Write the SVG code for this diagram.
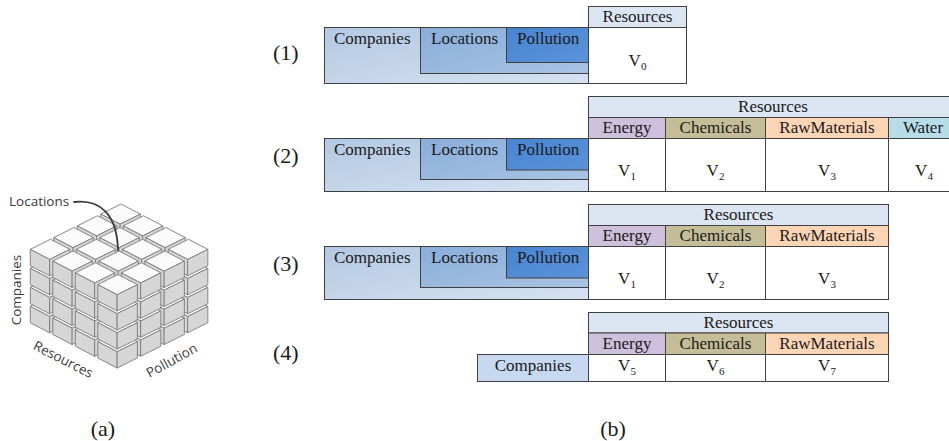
<svg xmlns="http://www.w3.org/2000/svg" xmlns:xlink="http://www.w3.org/1999/xlink" width="949" height="441" viewBox="0 0 949 441">
  <style>
    .cap { font-family: "Liberation Serif", "Times New Roman", Times, serif; font-size: 17px; fill: #1a1a1a; }
    .mid { text-anchor: middle; }
    .sub { font-size: 11px; }
    .num { font-family: "Liberation Serif", "Times New Roman", Times, serif; font-size: 22px; fill: #1a1a1a; }
    .lbl { font-family: "Open Sans", "DejaVu Sans", sans-serif; font-size: 13.5px; fill: #3a3a3a; }
    .cell { stroke: #404040; stroke-width: 1; }
    .hdr { fill: #dce6f2; }
    .en { fill: #ccc0da; }
    .ch { fill: #c4bd97; }
    .rm { fill: #fcd5b4; }
    .wa { fill: #b7dee8; }
    .body { fill: #ffffff; }
    .top { fill: #fbfbfb; stroke: #7a7a7a; stroke-width: 0.9; stroke-linejoin: round; }
    .side { fill: #d6d6d6; stroke: #7a7a7a; stroke-width: 0.9; stroke-linejoin: round; }
  </style>
  <defs>
    <linearGradient id="gComp" x1="0" y1="0" x2="1" y2="1">
      <stop offset="0" stop-color="#b3c8e3"/>
      <stop offset="1" stop-color="#d6e3f2"/>
    </linearGradient>
    <linearGradient id="gLoc" x1="0" y1="0" x2="1" y2="1">
      <stop offset="0" stop-color="#89aedb"/>
      <stop offset="1" stop-color="#a9c3e3"/>
    </linearGradient>
    <linearGradient id="gPol" x1="0" y1="0" x2="1" y2="1">
      <stop offset="0" stop-color="#4884d1"/>
      <stop offset="1" stop-color="#5b93d8"/>
    </linearGradient>
    <!-- one small cube, origin at the back corner of its top face -->
    <g id="c">
      <polygon class="top" points="0,0 -20.21,10.11 -0.86,20.21 19.35,10.11"/>
      <polygon class="side" points="-20.21,10.11 -0.86,20.21 -0.86,36.55 -20.21,26.45"/>
      <polygon class="side" points="19.35,10.11 -0.86,20.21 -0.86,36.55 19.35,26.45"/>
    </g>
    <!-- one 4x4 layer, drawn back to front -->
    <g id="layer">
      <use xlink:href="#c" x="121" y="204"/>
      <use xlink:href="#c" x="143.5" y="215.75"/>
      <use xlink:href="#c" x="97.5" y="215.75"/>
      <use xlink:href="#c" x="166" y="227.5"/>
      <use xlink:href="#c" x="120" y="227.5"/>
      <use xlink:href="#c" x="74" y="227.5"/>
      <use xlink:href="#c" x="188.5" y="239.25"/>
      <use xlink:href="#c" x="142.5" y="239.25"/>
      <use xlink:href="#c" x="96.5" y="239.25"/>
      <use xlink:href="#c" x="50.5" y="239.25"/>
      <use xlink:href="#c" x="165" y="251"/>
      <use xlink:href="#c" x="119" y="251"/>
      <use xlink:href="#c" x="73" y="251"/>
      <use xlink:href="#c" x="141.5" y="262.75"/>
      <use xlink:href="#c" x="95.5" y="262.75"/>
      <use xlink:href="#c" x="118" y="274.5"/>
    </g>
  </defs>

  <rect width="949" height="441" fill="#ffffff"/>

  <!-- (a) data cube -->
  <g id="cube">
    <use xlink:href="#layer" y="57"/>
    <use xlink:href="#layer" y="38"/>
    <use xlink:href="#layer" y="19"/>
    <use xlink:href="#layer" y="0"/>
  </g>
  <g id="connectors">
    <path d="M 74 202 C 100 199, 117 214, 118 250" fill="none" stroke="#3a3a3a" stroke-width="1.8" stroke-linecap="round"/>
  </g>
  <g id="cube-labels">
    <text class="lbl" x="9" y="206">Locations</text>
    <text class="lbl mid" transform="translate(21 290) rotate(-90)">Companies</text>
    <text class="lbl mid" transform="translate(63 360) rotate(27)" y="4">Resources</text>
    <text class="lbl mid" transform="translate(172 361) rotate(-29)" y="4">Pollution</text>
  </g>

  <!-- (1) one value column -->
  <g id="row1">
    <text class="num" x="273" y="60">(1)</text>
    <rect class="cell" x="324.5" y="27.5" width="264" height="56" fill="url(#gComp)"/>
    <rect class="cell" x="420.5" y="27.5" width="168" height="46" fill="url(#gLoc)"/>
    <rect class="cell" x="506.5" y="27.5" width="82" height="35" fill="url(#gPol)"/>
    <rect class="cell hdr" x="588.5" y="6.5" width="98" height="21"/>
    <rect class="cell body" x="588.5" y="27.5" width="98" height="56"/>
    <text class="cap" x="334" y="44">Companies</text>
    <text class="cap" x="431" y="44">Locations</text>
    <text class="cap" x="517" y="44">Pollution</text>
    <text class="cap mid" x="637.5" y="22">Resources</text>
    <text class="cap mid" x="637.5" y="66">V<tspan class="sub" dy="4">0</tspan></text>
  </g>

  <!-- (2) four resource columns -->
  <g id="row2">
    <text class="num" x="273" y="163">(2)</text>
    <rect class="cell" x="324.5" y="138.5" width="264" height="53" fill="url(#gComp)"/>
    <rect class="cell" x="420.5" y="138.5" width="168" height="41" fill="url(#gLoc)"/>
    <rect class="cell" x="506.5" y="138.5" width="82" height="31.5" fill="url(#gPol)"/>
    <rect class="cell hdr" x="588.5" y="96.5" width="372" height="21"/>
    <rect class="cell en" x="588.5" y="117.5" width="77" height="21"/>
    <rect class="cell ch" x="665.5" y="117.5" width="100" height="21"/>
    <rect class="cell rm" x="765.5" y="117.5" width="123" height="21"/>
    <rect class="cell wa" x="888.5" y="117.5" width="72" height="21"/>
    <rect class="cell body" x="588.5" y="138.5" width="77" height="53"/>
    <rect class="cell body" x="665.5" y="138.5" width="100" height="53"/>
    <rect class="cell body" x="765.5" y="138.5" width="123" height="53"/>
    <rect class="cell body" x="888.5" y="138.5" width="72" height="53"/>
    <text class="cap" x="334" y="155">Companies</text>
    <text class="cap" x="431" y="155">Locations</text>
    <text class="cap" x="517" y="155">Pollution</text>
    <text class="cap mid" x="773" y="112">Resources</text>
    <text class="cap mid" x="627" y="133">Energy</text>
    <text class="cap mid" x="715.5" y="133">Chemicals</text>
    <text class="cap mid" x="827" y="133">RawMaterials</text>
    <text class="cap mid" x="923" y="133">Water</text>
    <text class="cap mid" x="627" y="176">V<tspan class="sub" dy="4">1</tspan></text>
    <text class="cap mid" x="715.5" y="176">V<tspan class="sub" dy="4">2</tspan></text>
    <text class="cap mid" x="827" y="176">V<tspan class="sub" dy="4">3</tspan></text>
    <text class="cap mid" x="924" y="176">V<tspan class="sub" dy="4">4</tspan></text>
  </g>

  <!-- (3) three resource columns -->
  <g id="row3">
    <text class="num" x="273" y="271">(3)</text>
    <rect class="cell" x="324.5" y="246.5" width="264" height="53" fill="url(#gComp)"/>
    <rect class="cell" x="420.5" y="246.5" width="168" height="41" fill="url(#gLoc)"/>
    <rect class="cell" x="506.5" y="246.5" width="82" height="31.5" fill="url(#gPol)"/>
    <rect class="cell hdr" x="588.5" y="204.5" width="300" height="21"/>
    <rect class="cell en" x="588.5" y="225.5" width="77" height="21"/>
    <rect class="cell ch" x="665.5" y="225.5" width="100" height="21"/>
    <rect class="cell rm" x="765.5" y="225.5" width="123" height="21"/>
    <rect class="cell body" x="588.5" y="246.5" width="77" height="53"/>
    <rect class="cell body" x="665.5" y="246.5" width="100" height="53"/>
    <rect class="cell body" x="765.5" y="246.5" width="123" height="53"/>
    <text class="cap" x="334" y="263">Companies</text>
    <text class="cap" x="431" y="263">Locations</text>
    <text class="cap" x="517" y="263">Pollution</text>
    <text class="cap mid" x="738.5" y="220">Resources</text>
    <text class="cap mid" x="627" y="241">Energy</text>
    <text class="cap mid" x="715.5" y="241">Chemicals</text>
    <text class="cap mid" x="827" y="241">RawMaterials</text>
    <text class="cap mid" x="627" y="284">V<tspan class="sub" dy="4">1</tspan></text>
    <text class="cap mid" x="715.5" y="284">V<tspan class="sub" dy="4">2</tspan></text>
    <text class="cap mid" x="827" y="284">V<tspan class="sub" dy="4">3</tspan></text>
  </g>

  <!-- (4) companies only -->
  <g id="row4">
    <text class="num" x="273" y="360">(4)</text>
    <rect class="cell" x="477.5" y="354.5" width="111" height="27" fill="#c6d9f1"/>
    <rect class="cell hdr" x="588.5" y="312.5" width="300" height="20.5"/>
    <rect class="cell en" x="588.5" y="333" width="77" height="21.5"/>
    <rect class="cell ch" x="665.5" y="333" width="100" height="21.5"/>
    <rect class="cell rm" x="765.5" y="333" width="123" height="21.5"/>
    <rect class="cell body" x="588.5" y="354.5" width="77" height="27"/>
    <rect class="cell body" x="665.5" y="354.5" width="100" height="27"/>
    <rect class="cell body" x="765.5" y="354.5" width="123" height="27"/>
    <text class="cap mid" x="533" y="371">Companies</text>
    <text class="cap mid" x="738.5" y="328">Resources</text>
    <text class="cap mid" x="627" y="349">Energy</text>
    <text class="cap mid" x="715.5" y="349">Chemicals</text>
    <text class="cap mid" x="827" y="349">RawMaterials</text>
    <text class="cap mid" x="627" y="371">V<tspan class="sub" dy="4">5</tspan></text>
    <text class="cap mid" x="715.5" y="371">V<tspan class="sub" dy="4">6</tspan></text>
    <text class="cap mid" x="827" y="371">V<tspan class="sub" dy="4">7</tspan></text>
  </g>

  <!-- sub-figure captions -->
  <g id="captions">
    <text class="num mid" x="103" y="436">(a)</text>
    <text class="num mid" x="613" y="436">(b)</text>
  </g>
</svg>
